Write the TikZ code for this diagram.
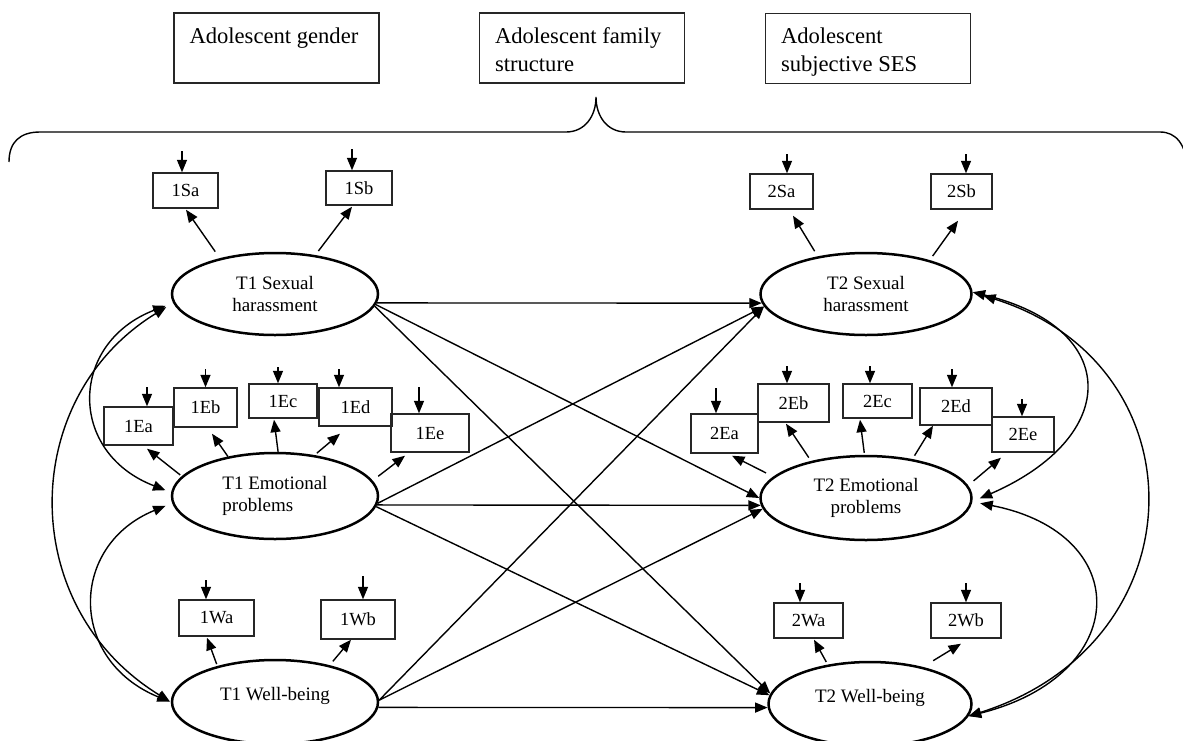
\documentclass[tikz,border=0pt]{standalone}
\usepackage{fontspec}
\setmainfont{Liberation Serif}
\usepackage{tikz}
\usetikzlibrary{arrows.meta,shapes.geometric}
\tikzset{>={Triangle[length=12.5pt,width=10pt]}}
\tikzset{
  box/.style={draw=black!85, line width=1.5pt, minimum height=70pt, inner xsep=15.5pt, inner ysep=0pt,
    text height=30pt, text depth=40pt, font=\fontsize{22.6}{28}\selectfont},
  sbox/.style={draw=black!85, line width=1.4pt, inner sep=0pt, font=\fontsize{18.5}{20}\selectfont},
  latent/.style={ellipse, draw, line width=2.5pt, inner sep=0pt, align=center, font=\fontsize{19}{22}\selectfont},
  arrow/.style={->, line width=1.4pt},
  covarrow/.style={<->, line width=1.4pt},
}
\begin{document}
\begin{tikzpicture}[x=1pt, y=-1pt]
\path[use as bounding box] (0,0) rectangle (1183,740);
\clip (0,0) rectangle (1183,740);

% covariate boxes
\node[box] (gender) at (276.5,48) {\parbox[t]{174pt}{\raggedright Adolescent gender}};
\node[box] (family) at (582,48) {\parbox[t]{174pt}{\raggedright Adolescent family\\structure}};
\node[box] (ses) at (868,48.5) {\parbox[t]{174pt}{\raggedright Adolescent\\subjective SES}};

% brace below the covariates
\draw[line width=1.4pt] (9,162) .. controls (9,142) and (20,132) .. (40,132) -- (566,132)
  .. controls (585,132) and (596,116) .. (596,97) .. controls (596,116) and (607,132) .. (626,132)
  -- (1160,132) .. controls (1176,132) and (1186,144) .. (1188,170);

% latent variables
\node[latent, minimum width=206pt, minimum height=82pt] (T1SH) at (275,294) {T1 Sexual\\harassment};
\node[latent, minimum width=206pt, minimum height=86pt, align=left] (T1EP) at (275,496) {T1 Emotional\\problems};
\node[latent, minimum width=206pt, minimum height=84pt, text height=13pt, text depth=17pt] (T1WB) at (275,702) {T1 Well-being};
\node[latent, minimum width=211pt, minimum height=82pt] (T2SH) at (866,294) {T2 Sexual\\harassment};
\node[latent, minimum width=211pt, minimum height=84pt] (T2EP) at (866,498) {T2 Emotional\\problems};
\node[latent, minimum width=203pt, minimum height=84pt, text height=13pt, text depth=17pt] (T2WB) at (870,704) {T2 Well-being};

% indicators T1
\node[sbox, minimum width=65pt, minimum height=35pt] (i1Sa) at (185.5,190.5) {1Sa};
\node[sbox, minimum width=66pt, minimum height=34pt] (i1Sb) at (359,188) {1Sb};
\node[sbox, minimum width=69pt, minimum height=38pt] (i1Ea) at (138.5,426) {1Ea};
\node[sbox, minimum width=63pt, minimum height=39pt] (i1Eb) at (205.5,407.5) {1Eb};
\node[sbox, minimum width=68pt, minimum height=34pt] (i1Ec) at (283,401) {1Ec};
\node[sbox, minimum width=73pt, minimum height=38pt] (i1Ed) at (355.5,407) {1Ed};
\node[sbox, minimum width=78pt, minimum height=38pt] (i1Ee) at (430,433) {1Ee};
\node[sbox, minimum width=75pt, minimum height=36pt] (i1Wa) at (216.5,618) {1Wa};
\node[sbox, minimum width=74pt, minimum height=39pt] (i1Wb) at (358,619.5) {1Wb};

% indicators T2
\node[sbox, minimum width=63pt, minimum height=35pt] (i2Sa) at (781.5,191.5) {2Sa};
\node[sbox, minimum width=61pt, minimum height=35pt] (i2Sb) at (961.5,191.5) {2Sb};
\node[sbox, minimum width=67pt, minimum height=39pt] (i2Ea) at (724.5,433.5) {2Ea};
\node[sbox, minimum width=71pt, minimum height=38pt] (i2Eb) at (793.5,403) {2Eb};
\node[sbox, minimum width=69pt, minimum height=34pt] (i2Ec) at (877.5,401) {2Ec};
\node[sbox, minimum width=72pt, minimum height=37pt] (i2Ed) at (956,406.5) {2Ed};
\node[sbox, minimum width=62pt, minimum height=35pt] (i2Ee) at (1023,434.5) {2Ee};
\node[sbox, minimum width=69pt, minimum height=35pt] (i2Wa) at (808.5,620.5) {2Wa};
\node[sbox, minimum width=70pt, minimum height=35pt] (i2Wb) at (966,620.5) {2Wb};

% error terms
\draw[arrow] ([xshift=-3.5pt,yshift=21pt]i1Sa.north) -- ([xshift=-3.5pt]i1Sa.north);
\draw[arrow] ([xshift=-7pt,yshift=21pt]i1Sb.north) -- ([xshift=-7pt]i1Sb.north);
\draw[arrow] ([xshift=8.5pt,yshift=19pt]i1Ea.north) -- ([xshift=8.5pt]i1Ea.north);
\draw[arrow] ([yshift=18pt]i1Eb.north) -- (i1Eb.north);
\draw[arrow] ([xshift=-5pt,yshift=16pt]i1Ec.north) -- ([xshift=-5pt]i1Ec.north);
\draw[arrow] ([xshift=-16.5pt,yshift=18pt]i1Ed.north) -- ([xshift=-16.5pt]i1Ed.north);
\draw[arrow] ([xshift=-11pt,yshift=26pt]i1Ee.north) -- ([xshift=-11pt]i1Ee.north);
\draw[arrow] ([xshift=-10.5pt,yshift=19pt]i1Wa.north) -- ([xshift=-10.5pt]i1Wa.north);
\draw[arrow] ([xshift=5pt,yshift=23pt]i1Wb.north) -- ([xshift=5pt]i1Wb.north);
\draw[arrow] ([xshift=5.5pt,yshift=19pt]i2Sa.north) -- ([xshift=5.5pt]i2Sa.north);
\draw[arrow] ([xshift=4.5pt,yshift=19pt]i2Sb.north) -- ([xshift=4.5pt]i2Sb.north);
\draw[arrow] ([xshift=-8.5pt,yshift=25pt]i2Ea.north) -- ([xshift=-8.5pt]i2Ea.north);
\draw[arrow] ([xshift=-6.5pt,yshift=17pt]i2Eb.north) -- ([xshift=-6.5pt]i2Eb.north);
\draw[arrow] ([xshift=-7.5pt,yshift=17pt]i2Ec.north) -- ([xshift=-7.5pt]i2Ec.north);
\draw[arrow] ([xshift=-4pt,yshift=18pt]i2Ed.north) -- ([xshift=-4pt]i2Ed.north);
\draw[arrow] ([xshift=-1pt,yshift=17pt]i2Ee.north) -- ([xshift=-1pt]i2Ee.north);
\draw[arrow] ([xshift=-8.5pt,yshift=19pt]i2Wa.north) -- ([xshift=-8.5pt]i2Wa.north);
\draw[arrow] ([yshift=19pt]i2Wb.north) -- (i2Wb.north);

% loadings
\draw[arrow, shorten <=8pt] (T1SH.147) -- ([xshift=0.5pt,yshift=-1pt]i1Sa.south);
\draw[arrow, shorten <=5pt] (T1SH.44) -- ([xshift=-7pt,yshift=-1pt]i1Sb.south);
\draw[arrow, shorten <=2pt] (T1EP.168) -- ([xshift=8.5pt,yshift=-3pt]i1Ea.south);
\draw[arrow] (T1EP.140) -- ([xshift=6.5pt,yshift=-6pt]i1Eb.south);
\draw[arrow] (T1EP.86) -- ([xshift=-9pt,yshift=-1pt]i1Ec.south);
\draw[arrow, shorten <=3pt] (T1EP.46) -- ([xshift=-15.5pt,yshift=-7pt]i1Ed.south);
\draw[arrow, shorten <=7pt] (T1EP.9) -- ([xshift=-25pt,yshift=-3pt]i1Ee.south);
\draw[arrow, shorten <=2pt] (T1WB.148) -- ([xshift=-9.5pt,yshift=-1pt]i1Wa.south);
\draw[arrow, shorten <=5pt] (T1WB.34) -- ([xshift=-7pt]i1Wb.south);
\draw[arrow, shorten <=6pt] (T2SH.142) -- ([xshift=11.5pt,yshift=-6pt]i2Sa.south);
\draw[arrow, shorten <=5pt] (T2SH.28) -- ([xshift=-3.5pt,yshift=-11pt]i2Sb.south);
\draw[arrow, shorten <=8pt] (T2EP.167) -- ([xshift=7.5pt,yshift=-2pt]i2Ea.south);
\draw[arrow, shorten <=4pt] (T2EP.146) -- ([xshift=-7.5pt,yshift=-1pt]i2Eb.south);
\draw[arrow, shorten <=2pt] (T2EP.92) -- ([xshift=-17.5pt,yshift=-1pt]i2Ec.south);
\draw[arrow, shorten <=4pt] (T2EP.40) -- ([xshift=-23pt]i2Ed.south);
\draw[arrow, shorten <=7pt] (T2EP.7) -- ([xshift=-22pt,yshift=-5pt]i2Ee.south);
\draw[arrow, shorten <=3pt] (T2WB.137) -- ([xshift=5.5pt,yshift=-1pt]i2Wa.south);
\draw[arrow, shorten <=12pt] (T2WB.35) -- ([xshift=-5pt,yshift=-5pt]i2Wb.south);

% cross-lagged paths T1 -> T2
\draw[arrow] (T1SH.355) -- (T2SH.185);
\draw[arrow] (T1SH.354) -- (T2EP.180);
\draw[arrow] (T1SH.353) -- (T2WB.174);
\draw[arrow] (T1EP.356) -- (T2SH.187);
\draw[arrow] (T1EP.355) -- (T2EP.184);
\draw[arrow] (T1EP.354) -- (T2WB.175);
\draw[arrow] (T1WB.1) -- (T2SH.187);
\draw[arrow] (T1WB.1) -- (T2EP.186);
\draw[arrow] (T1WB.357) -- (T2WB.182);

% covariances
\draw[covarrow, shorten <=8pt, shorten >=6pt] (T1SH.185) .. controls +(-104,40) and +(-104,-40) .. (T1EP.178);
\draw[covarrow, shorten <=8pt, shorten >=1pt] (T1SH.185) .. controls +(-155,95) and +(-155,-95) .. (T1WB.180);
\draw[covarrow, shorten <=7pt, shorten >=1pt] (T1EP.184) .. controls +(-103,42) and +(-103,-42) .. (T1WB.180);
\draw[covarrow, shorten >=8pt] (T2SH.1) .. controls +(149,36) and +(149,-65) .. (T2EP.358);
\draw[covarrow, shorten <=11pt] (T2SH.1) .. controls +(232,73) and +(232,-73) .. (T2WB.353);
\draw[covarrow, shorten <=8pt] (T2EP.358) .. controls +(163,32) and +(163,-41) .. (T2WB.353);

\end{tikzpicture}
\end{document}
